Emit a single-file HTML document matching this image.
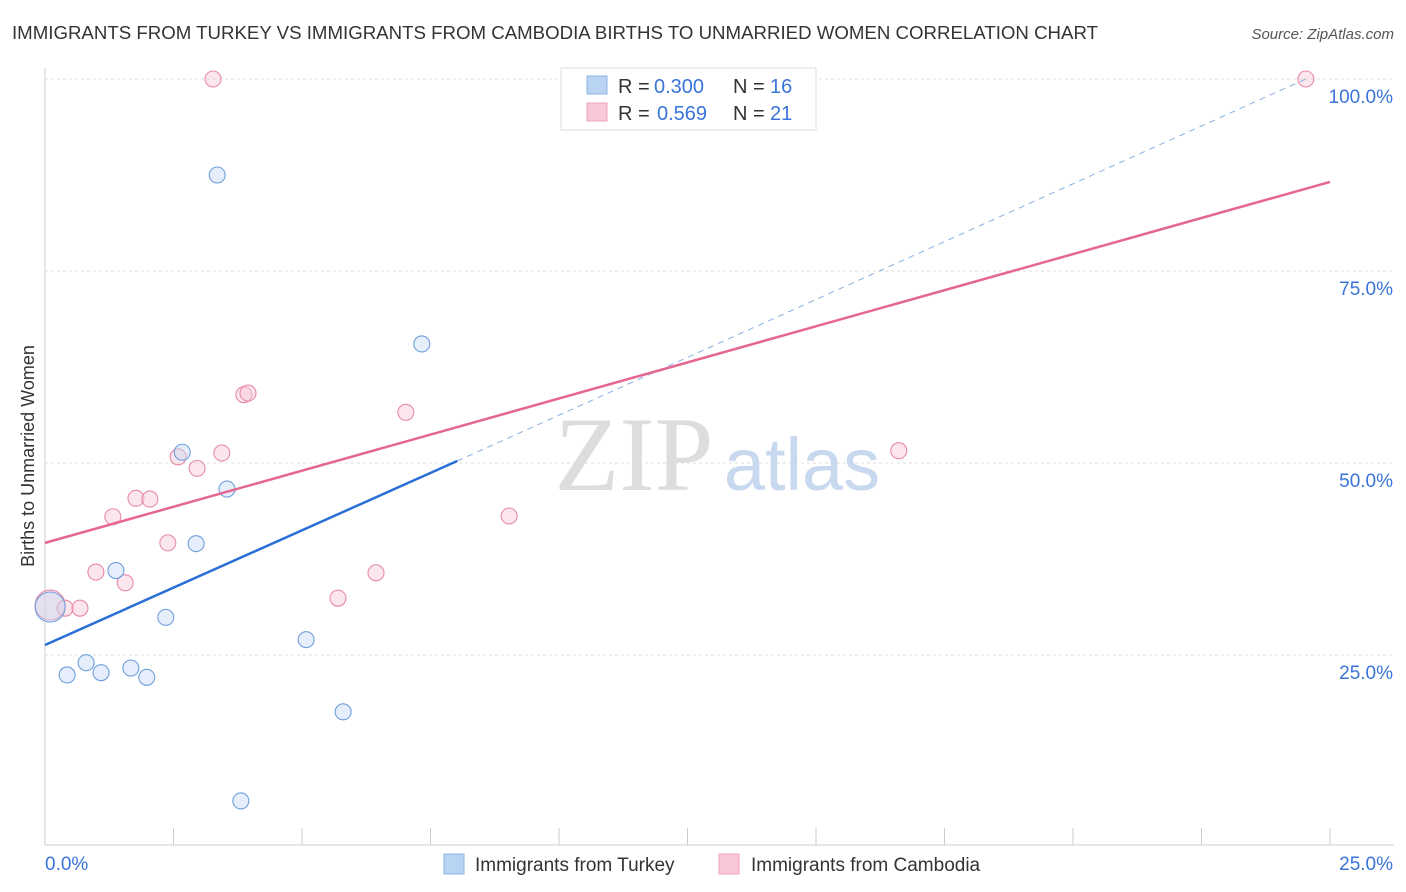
<!DOCTYPE html>
<html><head><meta charset="utf-8"><style>
body{margin:0;background:#fff;font-family:"Liberation Sans",sans-serif;}
svg{display:block}
</style></head><body>
<svg id="chart" width="1406" height="892">
<text x="12" y="39" font-size="18" fill="#333" textLength="1086" lengthAdjust="spacingAndGlyphs">IMMIGRANTS FROM TURKEY VS IMMIGRANTS FROM CAMBODIA BIRTHS TO UNMARRIED WOMEN CORRELATION CHART</text>
<text x="1394" y="39" font-size="15" fill="#555" font-style="italic" text-anchor="end">Source: ZipAtlas.com</text>
<text transform="translate(34,456) rotate(-90)" font-size="18" fill="#333" text-anchor="middle">Births to Unmarried Women</text>
<g id="grid"></g>
<text x="634" y="490" font-size="106" fill="#ddd" font-family="Liberation Serif,serif" text-anchor="middle">ZIP</text>
<text x="802" y="490" font-size="74" fill="#c8d8ef" text-anchor="middle">atlas</text>
<g id="marks"></g>
<g>
<rect x="561" y="68" width="255" height="62" fill="#fff" stroke="#ddd"/>
<rect x="587" y="76" width="20" height="18" fill="#b9d3f3" stroke="#8fb3e6"/>
<text x="618" y="93" font-size="20" fill="#333">R =</text>
<text x="654" y="93" font-size="20" fill="#3a74d8">0.300</text>
<text x="733" y="93" font-size="20" fill="#333">N =</text>
<text x="770" y="93" font-size="20" fill="#3a74d8">16</text>
<rect x="587" y="103" width="20" height="18" fill="#f9c8d6" stroke="#efa5bb"/>
<text x="618" y="120" font-size="20" fill="#333">R =</text>
<text x="657" y="120" font-size="20" fill="#3a74d8">0.569</text>
<text x="733" y="120" font-size="20" fill="#333">N =</text>
<text x="770" y="120" font-size="20" fill="#3a74d8">21</text>
</g>
<g>
<rect x="444" y="854" width="20" height="20" fill="#b9d3f3" stroke="#8fb3e6"/>
<text x="475" y="871" font-size="19" fill="#333">Immigrants from Turkey</text>
<rect x="719" y="854" width="20" height="20" fill="#f9c8d6" stroke="#efa5bb"/>
<text x="751" y="871" font-size="19" fill="#333">Immigrants from Cambodia</text>
</g>
</svg>
<script>
const xTicksPct=[0,2.5,5,7.5,10,12.5,15,17.5,20,22.5,25];
const yTicks=[25,50,75,100];
const yTickLabels=["25.0%","50.0%","75.0%","100.0%"];
const turkeyX=[0.10,0.43,0.80,1.09,1.38,1.67,1.98,2.35,2.67,2.94,3.35,3.54,3.81,5.08,5.80,7.33];
const turkeyY=[31.25,22.4,24.0,22.7,36.0,23.3,22.1,29.9,51.4,39.5,87.5,46.6,6.0,27.0,17.6,65.5];
const cambX=[0.10,0.39,0.68,0.99,1.32,1.56,1.77,2.04,2.39,2.59,2.96,3.27,3.44,3.87,3.95,5.70,6.44,7.02,9.03,16.61,24.53];
const cambY=[31.5,31.1,31.1,35.8,43.0,34.4,45.4,45.3,39.6,50.8,49.3,100,51.3,58.9,59.1,32.4,35.7,56.6,43.1,51.6,100];
const turkeyLine=[[0,26.3],[8.02,50.26]];
const turkeyDash=[[8.02,50.26],[24.53,100]];
const cambLine=[[0,39.6],[25,86.6]];
const X=v=>45+v/25*1285, Y=v=>847-v*7.68;
const NS="http://www.w3.org/2000/svg";
function mk(p,t,a){const e=document.createElementNS(NS,t);for(const k in a)e.setAttribute(k,a[k]);p.appendChild(e);return e;}
const g=document.getElementById('grid'), m=document.getElementById('marks');
const ax=mk(g,'line',{x1:45,y1:68,x2:45,y2:845,stroke:'#ccc'});


const bx=mk(g,'line',{x1:45,y1:845,x2:1394,y2:845,stroke:'#ccc'});


xTicksPct.forEach(v=>{const l=mk(g,'line',{x1:X(v),y1:828,x2:X(v),y2:845,stroke:'#ccc'});

});
yTicks.forEach((v,i)=>{const l=mk(g,'line',{x1:45,y1:Y(v),x2:1394,y2:Y(v),stroke:'#ddd','stroke-dasharray':'3,3'});


const t=mk(g,'text',{x:1393,y:Y(v)+24,'font-size':19,fill:'#3a74d8','text-anchor':'end'});t.textContent=yTickLabels[i];

});
const x0=mk(g,'text',{x:45,y:870,'font-size':19,fill:'#3a74d8'});x0.textContent='0.0%';


const x1=mk(g,'text',{x:1393,y:870,'font-size':19,fill:'#3a74d8','text-anchor':'end'});x1.textContent='25.0%';


function pts(xs,ys,fill,stroke,name){xs.forEach((x,i)=>{const c=mk(m,'circle',{cx:X(x),cy:Y(ys[i]),r:i==0?15:8,fill:fill,'fill-opacity':0.45,stroke:stroke,'stroke-width':1.1});

});}
pts(cambX,cambY,'#f9c8d6','#e88aa8','cambodia-point');
pts(turkeyX,turkeyY,'#c5daf5','#6f9fdc','turkey-point');
const d=mk(m,'line',{x1:X(turkeyDash[0][0]),y1:Y(turkeyDash[0][1]),x2:X(turkeyDash[1][0]),y2:Y(turkeyDash[1][1]),stroke:'#8ab0e0','stroke-dasharray':'6,5'});


const tl=mk(m,'line',{x1:X(turkeyLine[0][0]),y1:Y(turkeyLine[0][1]),x2:X(turkeyLine[1][0]),y2:Y(turkeyLine[1][1]),stroke:'#2a6fd6','stroke-width':2.5});


const cl=mk(m,'line',{x1:X(cambLine[0][0]),y1:Y(cambLine[0][1]),x2:X(cambLine[1][0]),y2:Y(cambLine[1][1]),stroke:'#e56690','stroke-width':2.5});


</script>
</body></html>
